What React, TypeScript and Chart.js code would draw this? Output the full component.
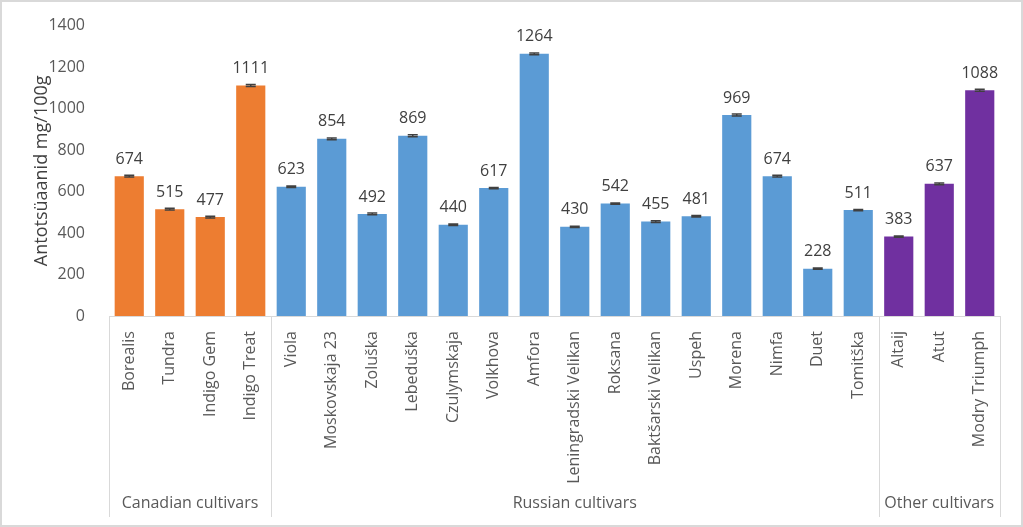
import React, { useEffect, useRef } from "react";
import { Chart, registerables } from "chart.js";

Chart.register(...registerables);

const categories = [
  "Borealis", "Tundra", "Indigo Gem", "Indigo Treat",
  "Viola", "Moskovskaja 23", "Zoluška", "Lebeduška", "Czulymskaja", "Volkhova", "Amfora",
  "Leningradski Velikan", "Roksana", "Baktšarski Velikan", "Uspeh", "Morena", "Nimfa", "Duet", "Tomitška",
  "Altaij", "Atut", "Modry Triumph",
];
const values = [
  674, 515, 477, 1111,
  623, 854, 492, 869, 440, 617, 1264, 430, 542, 455, 481, 969, 674, 228, 511,
  383, 637, 1088,
];
const errors = [
  4, 4, 4, 5,
  4, 4, 4, 5, 4, 3, 4, 3, 3, 4, 4, 5, 4, 3, 3,
  3, 4, 5,
];
const groupNames = ["Canadian cultivars", "Russian cultivars", "Other cultivars"];
const groupSizes = [4, 15, 3];
const groupColors = ["#ED7D31", "#5B9BD5", "#7030A0"];
const yTicks = [0, 200, 400, 600, 800, 1000, 1200, 1400];
const yTitle = "Antotsüaanid mg/100g";

const FONT = "'Open Sans', sans-serif";

export default function App() {
  const ref = useRef<HTMLCanvasElement | null>(null);

  useEffect(() => {
    document.body.style.margin = "0";
    const canvas = ref.current!;
    const barColors: string[] = [];
    groupSizes.forEach((n, g) => {
      for (let i = 0; i < n; i++) barColors.push(groupColors[g]);
    });

    const custom = {
      id: "custom",
      beforeDraw(chart: any) {
        const ctx = chart.ctx;
        ctx.save();
        ctx.fillStyle = "#ffffff";
        ctx.fillRect(0, 0, chart.width, chart.height);
        ctx.strokeStyle = "#d9d9d9";
        ctx.lineWidth = 2;
        ctx.strokeRect(1, 1, chart.width - 2, chart.height - 2);
        ctx.restore();
      },
      afterDatasetsDraw(chart: any) {
        const ctx = chart.ctx;
        const meta = chart.getDatasetMeta(0);
        const y = chart.scales.y;
        ctx.save();
        meta.data.forEach((bar: any, i: number) => {
          const v = values[i];
          const e = errors[i];
          const x = bar.x;
          const yt = y.getPixelForValue(v + e);
          const yb = y.getPixelForValue(v - e);
          ctx.strokeStyle = "#404040";
          ctx.lineWidth = 1.5;
          ctx.beginPath();
          ctx.moveTo(x, yt);
          ctx.lineTo(x, yb);
          ctx.moveTo(x - 5, yt);
          ctx.lineTo(x + 5, yt);
          ctx.moveTo(x - 5, yb);
          ctx.lineTo(x + 5, yb);
          ctx.stroke();
          ctx.fillStyle = "#404040";
          ctx.font = `16px ${FONT}`;
          ctx.textAlign = "center";
          ctx.textBaseline = "bottom";
          ctx.fillText(String(v), x, y.getPixelForValue(v) - 9);
        });
        ctx.restore();
      },
      afterDraw(chart: any) {
        const ctx = chart.ctx;
        const x = chart.scales.x;
        const area = chart.chartArea;
        const top = area.bottom;
        const bottom = x.bottom;
        const step = (area.right - area.left) / categories.length;
        ctx.save();
        ctx.strokeStyle = "#d9d9d9";
        ctx.lineWidth = 1;
        let idx = 0;
        const bounds = [area.left];
        groupSizes.forEach((n) => {
          idx += n;
          bounds.push(area.left + idx * step);
        });
        bounds.forEach((bx) => {
          const px = Math.round(bx) + 0.5;
          ctx.beginPath();
          ctx.moveTo(px, top);
          ctx.lineTo(px, bottom);
          ctx.stroke();
        });
        ctx.fillStyle = "#595959";
        ctx.font = `16px ${FONT}`;
        ctx.textAlign = "center";
        ctx.textBaseline = "middle";
        groupNames.forEach((name, g) => {
          ctx.fillText(name, (bounds[g] + bounds[g + 1]) / 2, bottom - 14);
        });
        // y title
        ctx.translate(42, (area.top + area.bottom) / 2);
        ctx.rotate(-Math.PI / 2);
        ctx.font = `18px ${FONT}`;
        ctx.fillStyle = "#404040";
        ctx.fillText(yTitle, 0, 0);
        ctx.restore();
      },
    };

    const chart = new Chart(canvas, {
      type: "bar",
      data: {
        labels: categories,
        datasets: [
          {
            data: values,
            backgroundColor: barColors,
            barPercentage: 0.72,
            categoryPercentage: 1,
          },
        ],
      },
      options: {
        responsive: false,
        animation: false,
        devicePixelRatio: 1,
        layout: { padding: { left: 0, right: 23, top: 22, bottom: 10 } },
        plugins: { legend: { display: false }, tooltip: { enabled: false } },
        scales: {
          x: {
            grid: { display: false },
            border: { display: true, color: "#d9d9d9" },
            ticks: {
              minRotation: 90,
              maxRotation: 90,
              autoSkip: false,
              padding: 7,
              color: "#595959",
              font: { family: FONT, size: 16 },
            },
            afterFit(scale: any) {
              scale.height = 201;
            },
          },
          y: {
            min: 0,
            max: 1400,
            grid: { display: false },
            border: { display: false },
            afterBuildTicks(scale: any) {
              scale.ticks = yTicks.map((v) => ({ value: v }));
            },
            ticks: {
              padding: 16,
              color: "#595959",
              font: { family: FONT, size: 16 },
              callback: (v: any) => String(v),
            },
            afterFit(scale: any) {
              scale.width = 109;
            },
          },
        },
      },
      plugins: [custom],
    });
    return () => chart.destroy();
  }, []);

  return (
    <div style={{ width: 1023, height: 527 }}>
      <canvas ref={ref} width={1023} height={527} style={{ display: "block" }} />
    </div>
  );
}
